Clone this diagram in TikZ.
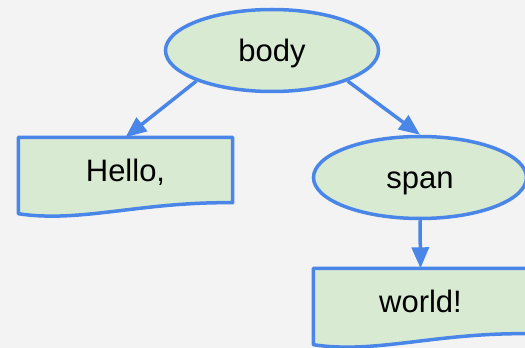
\documentclass[tikz,border=0pt]{standalone}
\usepackage{fontspec}
\setmainfont{Liberation Sans}
\usetikzlibrary{shapes.geometric,arrows.meta,calc}
\definecolor{edgeblue}{HTML}{4A86E8}
\definecolor{nodegreen}{HTML}{D9EAD3}
\definecolor{canvas}{HTML}{F3F3F3}
\tikzset{
  tag/.style={ellipse, draw=edgeblue, fill=nodegreen, line width=3.5pt,
    minimum width=213pt, minimum height=82pt, inner sep=0pt,
    text height=23pt, text depth=0pt, font=\fontsize{31}{36}\selectfont},
  textbox/.style={rectangle, minimum width=214pt, minimum height=65pt,
    inner sep=0pt, text height=23pt, text depth=0pt,
    font=\fontsize{31}{36}\selectfont},
  docline/.style={draw=edgeblue, fill=nodegreen, line width=3.5pt, line join=round},
  link/.style={draw=edgeblue, line width=3.5pt,
    -{Triangle[length=21pt,width=17pt]}}
}
% document-style box with a wavy lower edge, drawn behind a named node
\newcommand{\docshape}[1]{%
  \path[docline] (#1.north west) -- (#1.north east) -- (#1.south east)
    .. controls ($(#1.south west)+(121.5,1)$) and ($(#1.south west)+(61.5,-20.5)$)
    .. ($(#1.south west)+(0,-11)$) -- cycle;}
\begin{document}
\begin{tikzpicture}[x=1pt,y=1pt]
  \fill[canvas] (0,0) rectangle (525,348);
  \useasboundingbox (0,0) rectangle (525,348);

  \node[tag] (body) at (272,297.5) {body};
  \node[tag] (span) at (420,170.5) {span};

  \node[textbox] (hello) at (125.5,178) {};
  \docshape{hello}
  \node[textbox] at (hello) {Hello,};

  \node[textbox] (world) at (420.5,47) {};
  \docshape{world}
  \node[textbox] at (world) {world!};

  \draw[link] (body.202) -- (hello.north);
  \draw[link] (body.-22) -- (span.north);
  \draw[link] (span.south) -- (world.north);
\end{tikzpicture}
\end{document}
